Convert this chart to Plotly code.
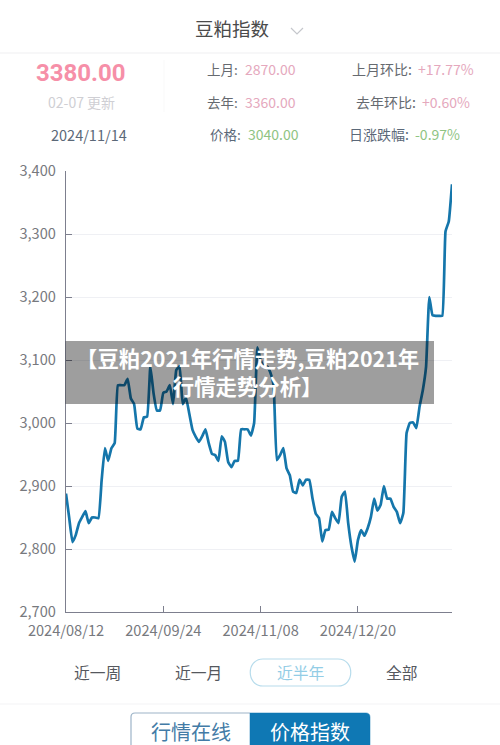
import plotly.graph_objects as go

title_text = "豆粕指数"
tick_dates = ["2024/08/12", "2024/09/24", "2024/11/08", "2024/12/20"]
tick_steps = [0, 30, 60, 90]
price_ticks = [2700, 2800, 2900, 3000, 3100, 3200, 3300, 3400]
prices = [
    2888, 2849, 2811, 2822, 2841, 2851, 2860, 2841, 2850, 2850,
    2849, 2910, 2960, 2940, 2960, 2968, 3060, 3060, 3060, 3070,
    3039, 3030, 2991, 2990, 3009, 3010, 3090, 3047, 3020, 3020,
    3048, 3050, 3060, 3030, 3084, 3090, 3030, 3040, 3015, 2989,
    2978, 2970, 2979, 2990, 2968, 2951, 2949, 2940, 2979, 2970,
    2938, 2930, 2940, 2940, 2990, 2990, 2990, 2980, 3000, 3120,
    3100, 3090, 3090, 3080, 3060, 2941, 2949, 2960, 2928, 2917, 2891,
    2889, 2910, 2901, 2910, 2910, 2880, 2856, 2849, 2812, 2830,
    2831, 2859, 2849, 2841, 2883, 2891, 2841, 2804, 2780, 2814,
    2830, 2821, 2833, 2851, 2880, 2861, 2870, 2900, 2880, 2880,
    2867, 2859, 2841, 2857, 2984, 3000, 3001, 2992, 3026, 3052,
    3089, 3200, 3171, 3170, 3170, 3170, 3304, 3320, 3379,
]
steps = list(range(len(prices)))

L, R, T, B = 66, 452, 171, 612
def px(x): return (x - L) / (R - L)
def py(y): return (B - y) / (B - T)

CJK = "Noto Sans CJK SC"
AX = "#7d7f8e"

fig = go.Figure(go.Scatter(
    x=steps, y=prices, mode="lines",
    line=dict(color="#1576ab", width=2.7, shape="spline", smoothing=0.35),
    hoverinfo="skip", showlegend=False,
))

annotations = []
def text(x, y, s, size, color, anchor="center", bold=False, family=CJK):
    annotations.append(dict(
        xref="paper", yref="paper", x=px(x), y=py(y),
        text=f"<b>{s}</b>" if bold else s, showarrow=False, xanchor=anchor,
        yanchor="middle", font=dict(size=size, color=color, family=family),
        borderpad=0, borderwidth=0,
    ))

text(232, 28, title_text, 18.5, "#4a4a4a")
text(81, 73, "3380.00", 24, "#f68fa8", bold=True, family="Roboto")
text(81, 101.5, "02-07 更新", 14, "#cfcfd4")
text(89, 135, "2024/11/14", 14.5, "#5b6878")

label_c = "#666a70"
pink = "#e5a8bd"
green = "#8fc483"
ROW1, ROW2, ROW3 = 68.5, 101.5, 134.5
text(238, ROW1, "上月:", 13.5, label_c, "right")
text(245, ROW1, "2870.00", 14, pink, "left")
text(238, ROW2, "去年:", 13.5, label_c, "right")
text(245, ROW2, "3360.00", 14, pink, "left")
text(241, ROW3, "价格:", 13.5, "#5b6878", "right")
text(248, ROW3, "3040.00", 14, green, "left")
text(412, ROW1, "上月环比:", 14, label_c, "right")
text(418, ROW1, "+17.77%", 14, pink, "left")
text(416, ROW2, "去年环比:", 14, label_c, "right")
text(422, ROW2, "+0.60%", 14, pink, "left")
text(409, ROW3, "日涨跌幅:", 14, "#5b6878", "right")
text(415, ROW3, "-0.97%", 14, green, "left")

text(247.5, 371, "【豆粕2021年行情走势,豆粕2021年<br>行情走势分析】", 21.4, "#ffffff", bold=True)

text(97.5, 672, "近一周", 15.8, "#55585e")
text(198.5, 672, "近一月", 15.8, "#55585e")
text(300.5, 672, "近半年", 15.8, "#93cde6")
text(402, 672, "全部", 15.8, "#55585e")
text(190.5, 731, "行情在线", 20, "#437ba6")
text(310, 731, "价格指数", 20, "#ffffff")

def rect(x0, y0, x1, y1, fill=None, line=None, w=1):
    return dict(type="rect", xref="paper", yref="paper",
                x0=px(x0), x1=px(x1), y0=py(y0), y1=py(y1),
                fillcolor=fill or "rgba(0,0,0,0)",
                line=dict(color=line or "rgba(0,0,0,0)", width=w if line else 0),
                layer="above")
def hline(x0, x1, y, color, w=1):
    return dict(type="line", xref="paper", yref="paper", x0=px(x0), x1=px(x1),
                y0=py(y), y1=py(y), line=dict(color=color, width=w), layer="above")
def path(points, color, fill=None, w=1):
    d = " ".join(points)
    return dict(type="path", xref="paper", yref="paper", path=d,
                fillcolor=fill or "rgba(0,0,0,0)", line=dict(color=color, width=w), layer="above")
def P(cmd, *coords):
    out = []
    for i in range(0, len(coords), 2):
        out.append(f"{px(coords[i]):.5f},{py(coords[i+1]):.5f}")
    return cmd + " ".join(out)

shapes = [
    hline(0, 500, 53, "#f0f0f2", 1.2),
    dict(type="line", xref="paper", yref="paper", x0=px(164), x1=px(164),
         y0=py(60), y1=py(112), line=dict(color="#f9f9f9", width=1), layer="above"),
    path([P("M", 291, 28), P("L", 297, 34), P("L", 303, 28)], "#c5c7cc", w=1.2),
    rect(65.5, 341, 434, 404, fill="rgba(0,0,0,0.38)"),
    path([P("M", 263, 659), P("L", 338, 659), P("C", 355, 659, 355, 686, 338, 686),
          P("L", 263, 686), P("C", 246, 686, 246, 659, 263, 659), "Z"], "#b7dcec", w=1.2),
    hline(0, 500, 704, "#f3f3f5", 1),
    path([P("M", 131, 750), P("L", 131, 717), P("C", 131, 714, 133, 713, 135, 713),
          P("L", 250, 713)], "#9db4c8", w=1.2),
    path([P("M", 250, 713), P("L", 366, 713), P("C", 368, 713, 370, 714, 370, 717),
          P("L", 370, 750), P("L", 250, 750), "Z"], "#0f78b4", fill="#0f78b4", w=0.5),
]

fig.update_layout(
    width=500, height=745, autosize=False,
    margin=dict(l=L, r=500 - R, t=T, b=745 - B, pad=0),
    paper_bgcolor="#ffffff", plot_bgcolor="#ffffff",
    annotations=annotations, shapes=shapes,
    xaxis=dict(
        range=[0, 119], tickmode="array", tickvals=tick_steps, ticktext=tick_dates,
        showgrid=False, zeroline=False, showline=True, linecolor=AX, linewidth=1.4,
        ticks="inside", ticklen=6, tickcolor=AX, tickwidth=1,
        tickfont=dict(size=14.6, color="#77797e", family=CJK), ticklabelstandoff=5,
    ),
    yaxis=dict(
        range=[2700, 3400], tickmode="array", tickvals=price_ticks,
        tickformat=",d", showgrid=True, gridcolor="#eff0f4", gridwidth=1.2, zeroline=False,
        showline=True, linecolor=AX, linewidth=1.4,
        ticks="inside", ticklen=6, tickcolor=AX, tickwidth=1,
        tickfont=dict(size=14.6, color="#77797e", family=CJK), ticklabelstandoff=6,
    ),
)

fig.write_html("out.html", config=dict(displayModeBar=False),
               post_script="document.body.style.margin='0';document.documentElement.style.overflow='hidden';")
